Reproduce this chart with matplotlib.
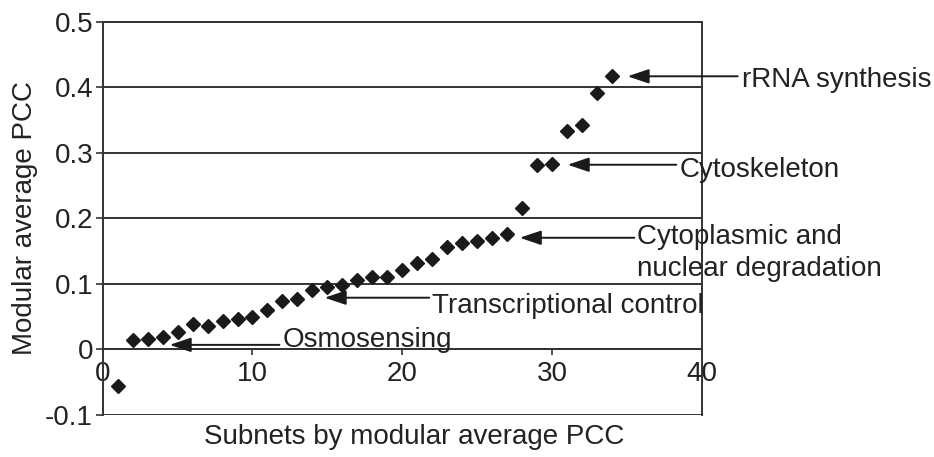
import numpy as np
import matplotlib
matplotlib.use("Agg")
import matplotlib.pyplot as plt

plt.rcParams['font.family'] = ['Liberation Sans', 'DejaVu Sans']

# subnet rank vs. modular average PCC
subnets = list(range(1, 35))
avg_pcc = [-0.056, 0.014, 0.016, 0.019, 0.026, 0.039, 0.036, 0.043, 0.046, 0.049,
           0.060, 0.074, 0.077, 0.091, 0.096, 0.098, 0.106, 0.110, 0.111, 0.122,
           0.132, 0.138, 0.157, 0.162, 0.165, 0.170, 0.177, 0.216, 0.281, 0.283,
           0.333, 0.343, 0.391, 0.418]

x_ticks = [0, 10, 20, 30, 40]
y_ticks = [-0.1, 0, 0.1, 0.2, 0.3, 0.4, 0.5]
y_ticklabels = ['-0.1', '0', '0.1', '0.2', '0.3', '0.4', '0.5']

# annotation labels: text, text anchor (x, baseline of last line), arrow start, arrow tip
ann_labels = ["rRNA synthesis", "Cytoskeleton", "Cytoplasmic and\nnuclear degradation",
              "Transcriptional control", "Osmosensing"]
ann_text_xy = [(42.67, 0.401), (38.5, 0.263), (35.7, 0.112), (21.97, 0.056), (12.0, 0.004)]
ann_start = [(42.4, 0.417), (38.3, 0.282), (35.5, 0.1705), (21.8, 0.079), (11.8, 0.007)]
ann_tip = [(35.05, 0.417), (31.05, 0.282), (27.85, 0.1705), (14.82, 0.079), (4.47, 0.007)]

ink = '#222222'
fs = 20

fig = plt.figure(figsize=(9.34, 4.57), dpi=100)
ax = fig.add_axes([0.110, 0.092, 0.6413, 0.860])

ax.plot(subnets, avg_pcc, linestyle='none', marker='D', markersize=6.8,
        color='#1a1a1a', zorder=3)

ax.set_xlim(0, 40)
ax.set_ylim(-0.1, 0.5)
ax.set_xticks(x_ticks)
ax.set_yticks(y_ticks)
ax.set_yticklabels(y_ticklabels)

# horizontal rules at every 0.1
ax.yaxis.grid(True, color='#333333', linewidth=1.4)
ax.set_axisbelow(True)

for side in ['left', 'right', 'top', 'bottom']:
    ax.spines[side].set_color('#333333')
    ax.spines[side].set_linewidth(1.4)
ax.spines['bottom'].set_position(('data', 0))

ax.tick_params(axis='both', colors='#333333', labelcolor=ink, labelsize=fs,
               width=1.2, direction='out')
ax.tick_params(axis='y', length=5, pad=2)
ax.tick_params(axis='x', length=4, pad=4)

ax.set_xlabel("Subnets by modular average PCC", fontsize=fs, color=ink)
ax.set_ylabel("Modular average PCC", fontsize=fs, color=ink)
ax.xaxis.label.set_va('center')
ax.yaxis.label.set_va('center')
ax.xaxis.set_label_coords(0.52, -0.056)
ax.yaxis.set_label_coords(-0.130, 0.5)

for label, txy, start, tip in zip(ann_labels, ann_text_xy, ann_start, ann_tip):
    ax.annotate('', xy=tip, xytext=start, annotation_clip=False,
                arrowprops=dict(arrowstyle='-|>,head_length=0.65,head_width=0.22',
                                color='#1a1a1a', lw=1.4, mutation_scale=20,
                                shrinkA=0, shrinkB=0))
    ax.text(txy[0], txy[1], label, fontsize=fs, color=ink, ha='left',
            va='baseline', clip_on=False, linespacing=1.32)

fig.savefig('out.png', dpi=100)
